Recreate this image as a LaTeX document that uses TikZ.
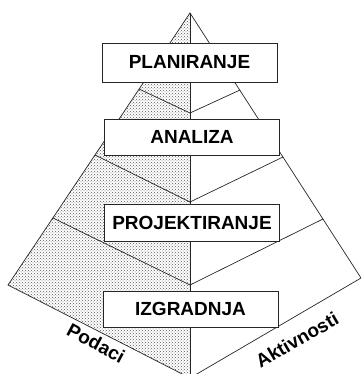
\documentclass[tikz,border=0pt]{standalone}
\usepackage{fontspec}
\setmainfont{Liberation Sans}
\usetikzlibrary{patterns}
\begin{document}
\begin{tikzpicture}[x=1pt,y=-1pt,
  edge/.style={line width=0.7pt, draw=black!85},
  layerbox/.style={draw=black!85, line width=0.9pt, fill=white, minimum width=175pt, inner sep=0pt, font=\fontsize{19}{19}\selectfont\bfseries},
  sidelabel/.style={font=\fontsize{19}{19}\selectfont\bfseries, inner sep=0pt}]
\useasboundingbox (0,0) rectangle (361,374);
\coordinate (apex) at (190,13);
\coordinate (L) at (8,285);
\coordinate (R) at (361,278);
\coordinate (B) at (190,378);
\coordinate (L1) at (139,89);
\coordinate (C1) at (190,113);
\coordinate (R1) at (240,90);
\coordinate (L2) at (95,155);
\coordinate (C2) at (190,202);
\coordinate (R2) at (283,157);
\coordinate (L3) at (53,218);
\coordinate (C3) at (190,285);
\coordinate (R3) at (323,219);
\begin{scope}
\clip (0,0) rectangle (361,374);
\fill[pattern=crosshatch dots, pattern color=black!65] (apex) -- (L) -- (B) -- cycle;
\draw[edge] (apex) -- (L) -- (B) -- (R) -- cycle;
\draw[edge] (apex) -- (B);
\draw[edge] (L1) -- (C1) -- (R1);
\draw[edge] (L2) -- (C2) -- (R2);
\draw[edge] (L3) -- (C3) -- (R3);
\end{scope}
\node[layerbox, minimum height=39pt] (plan) at (189.5,62.5) {PLANIRANJE};
\node[layerbox, minimum height=36pt] (anal) at (192,137) {ANALIZA};
\node[layerbox, minimum height=37pt] (proj) at (192,223) {PROJEKTIRANJE};
\node[layerbox, minimum height=36pt] (izgr) at (190.5,309) {IZGRADNJA};
\node[sidelabel, rotate=-28] (pod) at (96,343) {Podaci};
\node[sidelabel, rotate=30] (akt) at (297,340) {Aktivnosti};
\end{tikzpicture}
\end{document}
